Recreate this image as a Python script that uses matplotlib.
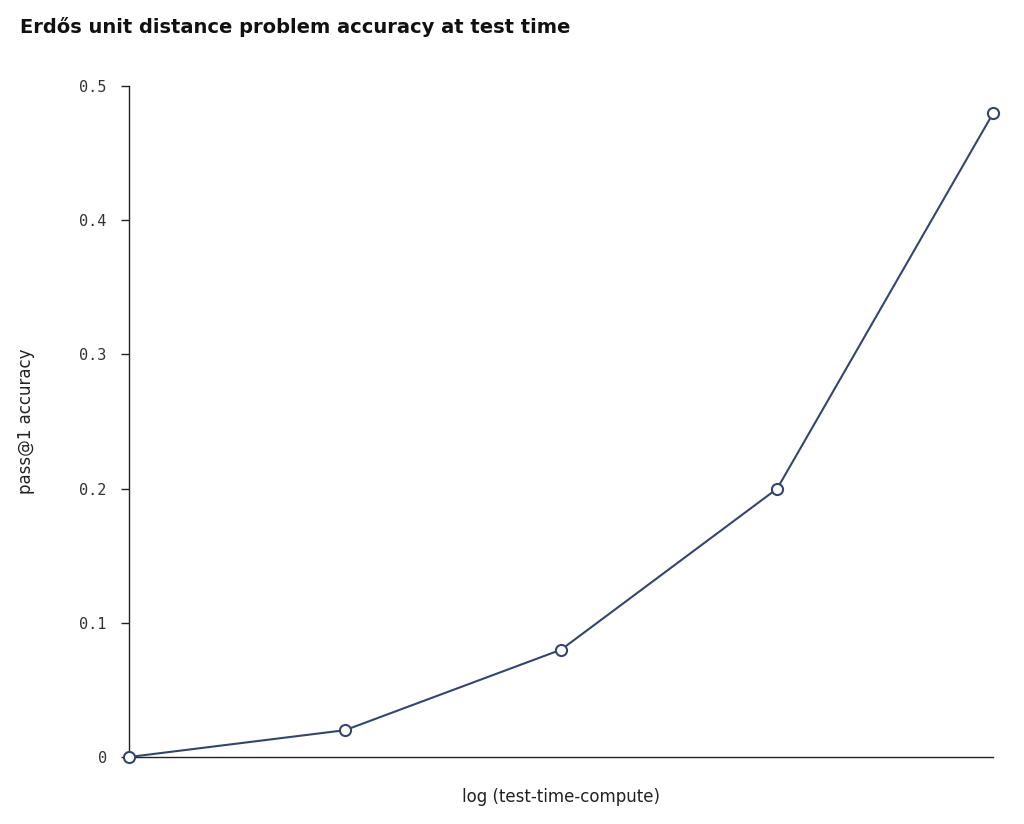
import matplotlib.pyplot as plt

# data
compute_steps = [0, 1, 2, 3, 4]
accuracy = [0.0, 0.02, 0.08, 0.2, 0.48]
ytick_vals = [0, 0.1, 0.2, 0.3, 0.4, 0.5]
ytick_labels = ["0", "0.1", "0.2", "0.3", "0.4", "0.5"]

line_color = "#34466b"

fig = plt.figure(figsize=(10.24, 8.24), dpi=100)
ax = fig.add_axes([0.126, 0.0813, 0.844, 0.8143])

ax.plot(compute_steps, accuracy, color=line_color, linewidth=1.5,
        marker="o", markersize=8, markerfacecolor="white",
        markeredgecolor=line_color, markeredgewidth=1.5, clip_on=False, zorder=3)

ax.set_xlim(0, 4)
ax.set_ylim(0, 0.5)
ax.set_xticks([])
ax.set_yticks(ytick_vals)
ax.set_yticklabels(ytick_labels, family="DejaVu Sans Mono", fontsize=11, color="#333333")
ax.tick_params(axis="y", length=6, width=1, color="#222222", pad=10)

for side in ("top", "right"):
    ax.spines[side].set_visible(False)
for side in ("left", "bottom"):
    ax.spines[side].set_color("#222222")
    ax.spines[side].set_linewidth(1)

ax.set_ylabel("pass@1 accuracy", fontsize=12, color="#222222", labelpad=32)
ax.set_xlabel("log (test-time-compute)", fontsize=12, color="#222222", labelpad=22)

fig.text(0.02, 0.967, "Erdős unit distance problem accuracy at test time",
         fontsize=14, fontweight="bold", ha="left", va="center", color="#111111")

fig.savefig("out.png", dpi=100)
